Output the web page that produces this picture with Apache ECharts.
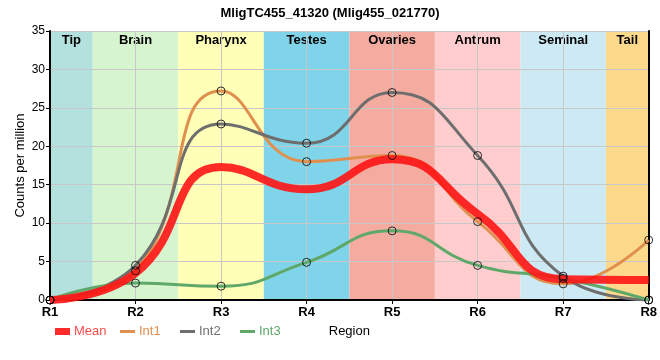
<!DOCTYPE html>
<html><head><meta charset="utf-8">
<script src="https://cdn.jsdelivr.net/npm/echarts@6/dist/echarts.min.js"></script>
<style>html,body{margin:0;padding:0;background:#fff}#c{width:660px;height:360px}</style>
</head><body><div id="c"></div>
<script>
const categories = ['R1','R2','R3','R4','R5','R6','R7','R8'];
const meanVals = [0, 3.5, 17.3, 14.4, 18.3, 11.2, 2.7, 2.6];
const int1Vals = [0, 3.8, 27.2, 18.0, 18.8, 10.2, 2.1, 7.8];
const int2Vals = [0, 4.5, 22.9, 20.4, 27.0, 18.8, 3.1, 0];
const int3Vals = [0, 2.2, 1.8, 4.9, 9.0, 4.5, 2.8, 0];
const bandNames = ['Tip','Brain','Pharynx','Testes','Ovaries','Antrum','Seminal','Tail'];
const bandStart = [0, 0.5, 1.5, 2.5, 3.5, 4.5, 5.5, 6.5];
const bandEnd = [0.5, 1.5, 2.5, 3.5, 4.5, 5.5, 6.5, 7];
const bandColors = ['#b3e1dd','#d6f5cf','#ffffb8','#7fd4ea','#f5aca0','#ffcdcd','#cdeaf4','#fdd98b'];

const FONT = 'Liberation Sans';
const toPairs = a => a.map((v,i)=>[i,v]);

const chart = echarts.init(document.getElementById('c'));
const lineSeries = (name, vals, color, width) => ({
  name, type:'line', data: toPairs(vals), smooth: true, symbol:'none',
  lineStyle:{color, width}, itemStyle:{color}, z:3
});
const markerSeries = (vals) => ({
  type:'scatter', data: toPairs(vals), symbol:'circle', symbolSize:8,
  itemStyle:{color:'rgba(0,0,0,0)', borderColor:'#000', borderWidth:1}, z:6, silent:true
});
const legendItem = (left, name, color, h) => ({
  left, top:325, padding:0, itemWidth:15, itemHeight:h, icon:'rect',
  textStyle:{fontFamily:FONT, fontSize:13, padding:[0,0,0,-1]},
  data:[{name, textStyle:{color}}]
});

chart.setOption({
  animation:false,
  textStyle:{fontFamily:FONT},
  title:{text:'MligTC455_41320 (Mlig455_021770)', left:'center', top:2,
    textStyle:{fontFamily:FONT, fontSize:13, fontWeight:'bold', color:'#000'}},
  grid:{left:50, right:9, top:31, bottom:60},
  legend:[
    legendItem(55, 'Mean', '#ff4d4d', 7),
    legendItem(120, 'Int1', '#e0904e', 3),
    legendItem(180, 'Int2', '#707070', 3),
    legendItem(240, 'Int3', '#5fa86a', 3)
  ],
  xAxis:{type:'value', min:0, max:7, interval:1, name:'Region', nameLocation:'middle', nameGap:25,
    nameMoveOverlap:false,
    nameTextStyle:{fontFamily:FONT, fontSize:13, color:'#000'},
    axisLine:{lineStyle:{color:'#000', width:2}},
    axisTick:{show:true, length:4, lineStyle:{color:'#000'}},
    axisLabel:{formatter:v=>categories[v], fontFamily:FONT, fontSize:13, fontWeight:'bold', color:'#000', margin:6},
    splitLine:{show:true, lineStyle:{color:'#c8c8c8', width:1}}},
  yAxis:[{type:'value', min:0, max:35, interval:5, name:'Counts per million', nameLocation:'middle', nameGap:23,
    nameMoveOverlap:false,
    nameTextStyle:{fontFamily:FONT, fontSize:13, color:'#000'},
    axisLine:{show:true, lineStyle:{color:'#000', width:2}},
    axisTick:{show:true, length:4, lineStyle:{color:'#000'}},
    axisLabel:{fontFamily:FONT, fontSize:12, color:'#000', margin:5},
    splitLine:{show:true, lineStyle:{color:'#c8c8c8', width:1}}},
   {type:'value', position:'right', min:0, max:35, axisLine:{show:true, lineStyle:{color:'#000', width:2}},
    axisTick:{show:false}, axisLabel:{show:false}, splitLine:{show:false}}],
  series:[
    {type:'custom', z:-1, silent:true,
     data: bandNames.map((n,i)=>[bandStart[i], bandEnd[i], i]),
     renderItem:(params, api)=>{
       const i = api.value(2);
       const p0 = api.coord([api.value(0), 35]);
       const p1 = api.coord([api.value(1), 0]);
       return {type:'group', children:[
         {type:'rect', shape:{x:p0[0], y:p0[1], width:p1[0]-p0[0], height:p1[1]-p0[1]},
          style:{fill:bandColors[i]}},
         {type:'text', style:{text:bandNames[i], x:(p0[0]+p1[0])/2, y:p0[1]+3, align:'center', verticalAlign:'top',
          font:'bold 13px "Liberation Sans"', fill:'#000'}, z2:10}
       ]};
     }},
    lineSeries('Int1', int1Vals, '#e0904e', 3),
    lineSeries('Int2', int2Vals, '#6e6e6e', 3),
    lineSeries('Int3', int3Vals, '#5fa86a', 3),
    Object.assign(lineSeries('Mean', meanVals, 'rgba(255,20,20,0.9)', 8), {z:4}),
    markerSeries(int1Vals), markerSeries(int2Vals), markerSeries(int3Vals)
  ]
});
</script></body></html>
